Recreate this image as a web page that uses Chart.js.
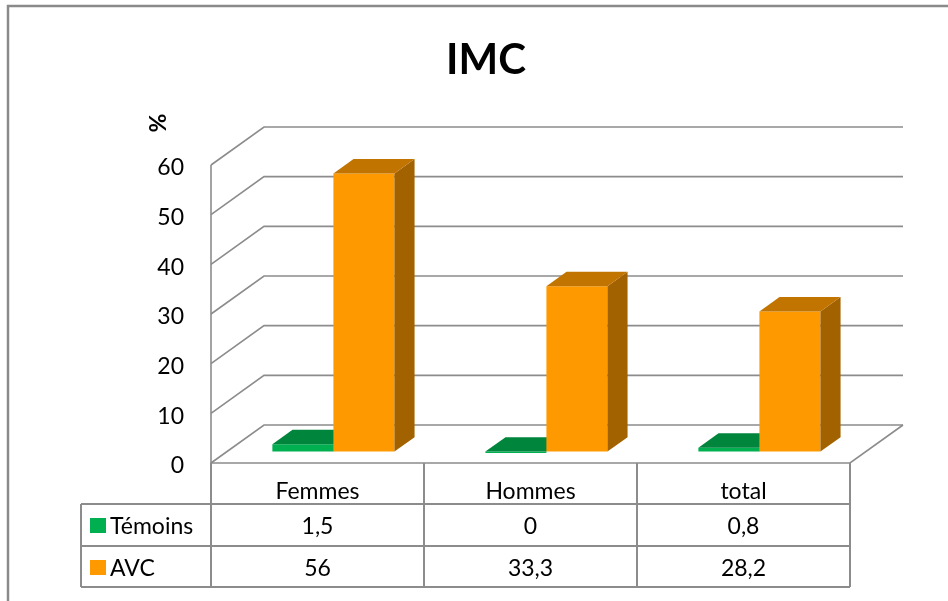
<!DOCTYPE html>
<html>
<head>
<meta charset="utf-8">
<script src="https://cdn.jsdelivr.net/npm/chart.js@4.4.1/dist/chart.umd.min.js"></script>
<style>
    html, body { margin: 0; padding: 0; background: #fff; }
</style>
</head>
<body>
<canvas id="imcChart" width="948" height="601"></canvas>
<script>
const categories = ['Femmes', 'Hommes', 'total']
const seriesNames = ['Témoins', 'AVC']
const temoinsValues = [1.5, 0, 0.8]
const avcValues = [56, 33.3, 28.2]
const yTicks = [0, 10, 20, 30, 40, 50, 60]

;(function () {
    const FONT = 'Lato, "Open Sans", sans-serif'
    const GRID = '#8c8c8c'
    const depth = { x: 53, y: -38 } // profondeur du plancher
    const f0 = 0.3 // face avant des barres
    const f1 = 0.68 // face arriere des barres

    const faces = [
        { front: '#00B050', top: '#00853C', side: '#006E31' },
        { front: '#FF9900', top: '#C27400', side: '#A36200' }
    ]

    const fmt = (v) => String(v).replace('.', ',')

    function line(ctx, pts) {
        ctx.beginPath()
        ctx.moveTo(pts[0][0], pts[0][1])
        for (let i = 1; i < pts.length; i++) ctx.lineTo(pts[i][0], pts[i][1])
        ctx.stroke()
    }

    function poly(ctx, pts, color) {
        ctx.beginPath()
        ctx.moveTo(pts[0][0], pts[0][1])
        for (let i = 1; i < pts.length; i++) ctx.lineTo(pts[i][0], pts[i][1])
        ctx.closePath()
        ctx.fillStyle = color
        ctx.fill()
    }

    const plugin3d = {
        id: 'imc3d',
        beforeDraw(chart) {
            const ctx = chart.ctx
            ctx.save()
            ctx.fillStyle = '#fff'
            ctx.fillRect(0, 0, chart.width, chart.height)
            ctx.strokeStyle = '#8a8a8a'
            ctx.lineWidth = 2.5
            ctx.strokeRect(8, 6, chart.width + 20, chart.height + 20)

            ctx.fillStyle = '#000'
            ctx.font = 'bold 42px ' + FONT
            ctx.textAlign = 'center'
            ctx.textBaseline = 'alphabetic'
            ctx.fillText('IMC', 486, 74)

            ctx.translate(166, 123)
            ctx.rotate(-Math.PI / 2)
            ctx.font = 'bold 23px ' + FONT
            ctx.fillText('%', 0, 0)
            ctx.restore()
        },
        beforeDatasetsDraw(chart) {
            const ctx = chart.ctx
            const { left, right, bottom } = chart.chartArea
            const ys = chart.scales.y
            ctx.save()
            ctx.strokeStyle = GRID
            ctx.lineWidth = 1.6

            // murs + grille
            yTicks.forEach((t) => {
                const py = ys.getPixelForValue(t)
                line(ctx, [[left, py], [left + depth.x, py + depth.y], [right + depth.x, py + depth.y]])
            })
            const top = ys.getPixelForValue(yTicks[yTicks.length - 1])
            line(ctx, [[left, top], [left, bottom]])
            line(ctx, [[left, bottom], [right, bottom], [right + depth.x, bottom + depth.y]])

            // graduations
            ctx.fillStyle = '#000'
            ctx.font = '23px ' + FONT
            ctx.textAlign = 'right'
            ctx.textBaseline = 'middle'
            yTicks.forEach((t) => {
                ctx.fillText(String(t), 184, ys.getPixelForValue(t) + 3)
            })

            // barres 3D
            const dx0 = depth.x * f0, dy0 = depth.y * f0
            const ddx = depth.x * (f1 - f0), ddy = depth.y * (f1 - f0)
            categories.forEach((c, j) => {
                chart.data.datasets.forEach((ds, i) => {
                    const el = chart.getDatasetMeta(i).data[j]
                    const xl = el.x - el.width / 2 + dx0
                    const xr = el.x + el.width / 2 + dx0
                    const yt = el.y + dy0
                    const yb = el.base + dy0
                    const col = faces[i]
                    if (yb - yt > 0.5) {
                        poly(ctx, [[xl, yt], [xr, yt], [xr, yb], [xl, yb]], col.front)
                        poly(ctx, [[xr, yt], [xr + ddx, yt + ddy], [xr + ddx, yb + ddy], [xr, yb]], col.side)
                    } else {
                        poly(ctx, [[xl, yb], [xr, yb], [xr, yb + 1.5], [xl, yb + 1.5]], col.front)
                    }
                    poly(ctx, [[xl, yt], [xr, yt], [xr + ddx, yt + ddy], [xl + ddx, yt + ddy]], col.top)
                })
            })
            ctx.restore()
            return false
        },
        afterDraw(chart) {
            const ctx = chart.ctx
            const { left, right, bottom } = chart.chartArea
            const xs = chart.scales.x
            const tableLeft = 81
            const rows = [bottom, 504, 546, 587]
            const bounds = [left]
            for (let j = 0; j < categories.length - 1; j++) {
                bounds.push((xs.getPixelForValue(j) + xs.getPixelForValue(j + 1)) / 2)
            }
            bounds.push(right)

            ctx.save()
            ctx.strokeStyle = GRID
            ctx.lineWidth = 2
            bounds.forEach((bx) => line(ctx, [[bx, bottom], [bx, rows[3]]]))
            line(ctx, [[tableLeft, rows[1]], [tableLeft, rows[3]]])
            for (let r = 1; r < rows.length; r++) line(ctx, [[tableLeft, rows[r]], [right, rows[r]]])

            ctx.fillStyle = '#000'
            ctx.font = '23px ' + FONT
            ctx.textAlign = 'center'
            ctx.textBaseline = 'alphabetic'
            categories.forEach((c, j) => {
                const cx = (bounds[j] + bounds[j + 1]) / 2
                ctx.fillText(c, cx, 499)
            })

            const seriesValues = [temoinsValues, avcValues]
            const baselines = [534, 576]
            seriesValues.forEach((vals, i) => {
                ctx.fillStyle = faces[i].front
                ctx.fillRect(90, baselines[i] - 16, 16, 15)
                ctx.fillStyle = '#000'
                ctx.textAlign = 'left'
                ctx.fillText(seriesNames[i], 110, baselines[i])
                ctx.textAlign = 'center'
                vals.forEach((v, j) => {
                    ctx.fillText(fmt(v), (bounds[j] + bounds[j + 1]) / 2, baselines[i])
                })
            })
            ctx.restore()
        }
    }

    function initializeChart() {
        const el = document.getElementById('imcChart')
        if (!el) return

        new Chart(el, {
            type: 'bar',
            data: {
                labels: categories,
                datasets: [
                    { label: seriesNames[0], data: temoinsValues, backgroundColor: faces[0].front },
                    { label: seriesNames[1], data: avcValues, backgroundColor: faces[1].front }
                ]
            },
            options: {
                responsive: false,
                animation: false,
                devicePixelRatio: 1,
                layout: { padding: { left: 211, right: 98, top: 165, bottom: 138 } },
                datasets: { bar: { barPercentage: 1, categoryPercentage: 0.573 } },
                plugins: {
                    legend: { display: false },
                    tooltip: { enabled: false }
                },
                scales: {
                    x: { display: false },
                    y: { display: false, min: 0, max: 60 }
                }
            },
            plugins: [plugin3d]
        })
    }

    initializeChart()
})()
</script>
</body>
</html>
